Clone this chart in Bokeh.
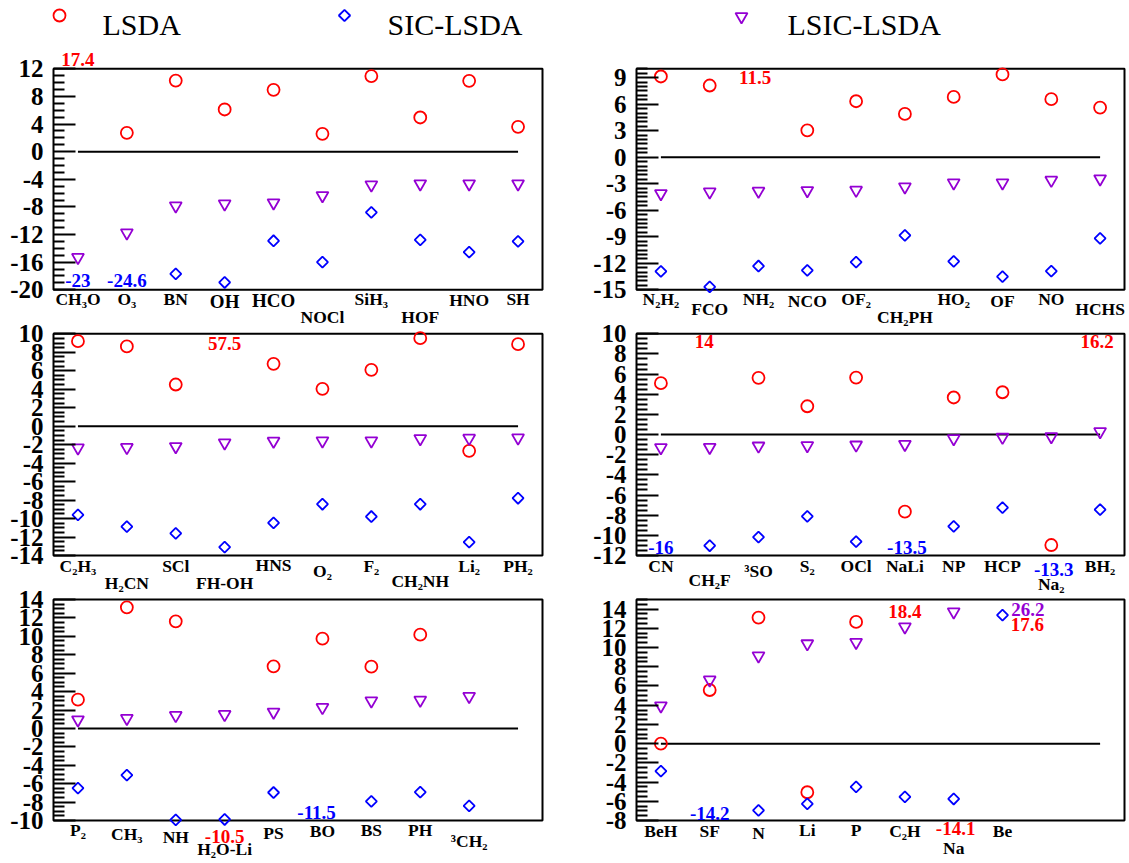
import math
from bokeh.plotting import figure
from bokeh.models import Range1d, FixedTicker, Label, LinearAxis
from bokeh.embed import file_html
from bokeh.resources import INLINE

NAN = float("nan")

# ---------------- data ----------------
series_names = ["LSDA", "SIC-LSDA", "LSIC-LSDA"]

cats1 = ["CH₃O", "O₃", "BN", "OH", "HCO", "NOCl", "SiH₃", "HOF", "HNO", "SH"]
lsda1 = [17.4, 2.73, 10.3, 6.11, 8.96, 2.59, 10.94, 4.95, 10.26, 3.6]
sic1 = [-23.0, -24.6, -17.68, -18.94, -12.9, -16.0, -8.8, -12.76, -14.55, -12.99]
lsic1 = [-15.3, -11.75, -7.85, -7.56, -7.4, -6.35, -4.8, -4.65, -4.65, -4.65]
yticks1 = [-20, -16, -12, -8, -4, 0, 4, 8, 12]

cats2 = ["N₂H₂", "FCO", "NH₂", "NCO", "OF₂", "CH₂PH", "HO₂", "OF", "NO", "HCHS"]
lsda2 = [9.13, 8.11, 11.5, 3.04, 6.33, 4.89, 6.82, 9.36, 6.56, 5.61]
sic2 = [-12.92, -14.66, -12.31, -12.8, -11.86, -8.84, -11.79, -13.52, -12.88, -9.18]
lsic2 = [-4.11, -3.92, -3.84, -3.77, -3.73, -3.35, -2.9, -2.9, -2.6, -2.44]
yticks2 = [-15, -12, -9, -6, -3, 0, 3, 6, 9]

cats3 = ["C₂H₃", "H₂CN", "SCl", "FH-OH", "HNS", "O₂", "F₂", "CH₂NH", "Li₂", "PH₂"]
lsda3 = [9.2, 8.63, 4.51, 57.5, 6.75, 4.04, 6.1, 9.53, -2.67, 8.88]
sic3 = [-9.6, -10.87, -11.6, -13.1, -10.47, -8.45, -9.78, -8.45, -12.56, -7.8]
lsic3 = [-2.35, -2.3, -2.2, -1.8, -1.62, -1.59, -1.59, -1.34, -1.3, -1.26]
yticks3 = [-14, -12, -10, -8, -6, -4, -2, 0, 2, 4, 6, 8, 10]

cats4 = ["CN", "CH₂F", "³SO", "S₂", "OCl", "NaLi", "NP", "HCP", "Na₂", "BH₂"]
lsda4 = [5.1, 14.0, 5.63, 2.81, 5.66, -7.65, 3.68, 4.2, -10.96, 16.2]
sic4 = [-16.0, -11.03, -10.17, -8.11, -10.63, -13.5, -9.11, -7.25, -13.3, -7.45]
lsic4 = [-1.29, -1.26, -1.13, -1.09, -1.03, -0.96, -0.4, -0.26, -0.2, 0.3]
yticks4 = [-12, -10, -8, -6, -4, -2, 0, 2, 4, 6, 8, 10]

cats5 = ["P₂", "CH₃", "NH", "H₂O-Li", "PS", "BO", "BS", "PH", "³CH₂"]
lsda5 = [3.12, 13.15, 11.63, -10.5, 6.74, 9.75, 6.7, 10.18, NAN]
sic5 = [-6.49, -5.07, -9.93, -9.89, -6.96, -11.5, -7.93, -6.92, -8.41]
lsic5 = [0.94, 1.09, 1.41, 1.52, 1.78, 2.28, 3.0, 3.08, 3.48]
yticks5 = [-10, -8, -6, -4, -2, 0, 2, 4, 6, 8, 10, 12, 14]

cats6 = ["BeH", "SF", "N", "Li", "P", "C₂H", "Na", "Be"]
lsda6 = [0.0, 5.58, 13.12, -5.06, 12.67, 18.4, -14.1, 17.6]
sic6 = [-2.86, -14.2, -6.95, -6.28, -4.5, -5.55, -5.76, 13.37]
lsic6 = [3.94, 6.63, 9.14, 10.4, 10.54, 12.15, 13.72, 26.2]
yticks6 = [-8, -6, -4, -2, 0, 2, 4, 6, 8, 10, 12, 14]

# ---------------- style / layout ----------------
COLORS = ["#ff0000", "#0000ff", "#9400d3"]
FONT = "Liberation Serif"
NSLOTS = 10
BIG_LABELS = {"OH", "HCO"}

# label stagger (px below the panel box) per category
drops1 = [9, 9, 9, 12, 11, 27, 9, 27, 10, 9]
drops2 = [9, 19, 9, 11, 9, 27, 9, 11, 9, 19]
drops3 = [10, 27, 10, 27, 9, 15, 10, 25, 10, 10]
drops4 = [10, 24, 15, 10, 10, 10, 10, 10, 28, 10]
drops5 = [9, 13, 16, 28, 12, 10, 9, 9, 20]
drops6 = [10, 10, 12, 9, 9, 10, 27, 10]

# placement of off-scale value notes: (series, category index, dx [slots], px above box bottom)
notes1 = [(0, 0, 0.0, 230), (1, 0, 0.0, 9), (1, 1, 0.0, 9)]
notes2 = [(0, 2, -0.07, 212)]
notes3 = [(0, 3, 0.0, 212)]
notes4 = [(0, 1, -0.11, 214), (0, 9, -0.06, 214), (1, 0, 0.0, 8), (1, 5, 0.04, 8), (1, 8, 0.05, -14)]
notes5 = [(0, 3, 0.0, -16), (1, 5, -0.12, 8)]
notes6 = [(0, 5, 0.0, 209), (2, 7, 0.52, 211), (0, 7, 0.51, 196), (0, 6, 0.04, -8), (1, 1, 0.0, 7)]

# page geometry (px) of the panel boxes
W, H = 1128, 862
COLS = {"L": (53, 542), "R": (636, 1124)}
ROWS = [(68.3, 289.3), (333.3, 555.0), (599.0, 820.0)]

p = figure(width=W, height=H, x_range=Range1d(0, W), y_range=Range1d(0, H),
           output_backend="svg", toolbar_location=None,
           x_axis_location=None, y_axis_location=None, min_border=0,
           outline_line_color=None)
p.grid.visible = False
p.background_fill_color = "white"
p.border_fill_color = "white"

for side, (bl, br) in COLS.items():
    ppx = (br - bl) / NSLOTS
    p.extra_x_ranges["x" + side] = Range1d(-bl / ppx, (W - bl) / ppx)


def fmt(v):
    return f"{v:g}"


def panel(name, cats, drops, series, ymin, ymax, ticks, nminor, notes, side, r):
    xr = "x" + side
    bt, bb = ROWS[r]
    ppy = (bb - bt) / (ymax - ymin)
    p.extra_y_ranges[name] = Range1d(ymin - (H - bb) / ppy, ymax + bt / ppy)
    rn = dict(x_range_name=xr, y_range_name=name)

    step = ticks[1] - ticks[0]
    minor = []
    for t in ticks:
        for j in range(1, nminor):
            m = t + step * j / nminor
            if m <= ymax:
                minor.append(m)
    ax = LinearAxis(fixed_location=0, **rn)
    ax.ticker = FixedTicker(ticks=ticks, minor_ticks=minor)
    ax.major_label_overrides = {t: str(t) for t in ticks}
    ax.axis_line_color = None
    ax.major_tick_in = 22
    ax.major_tick_out = 0
    ax.minor_tick_in = 11
    ax.minor_tick_out = 0
    ax.major_tick_line_width = 2
    ax.minor_tick_line_width = 2
    ax.major_label_text_font = FONT
    ax.major_label_text_font_style = "bold"
    ax.major_label_text_font_size = "25px"
    ax.major_label_text_color = "black"
    ax.major_label_standoff = 10
    p.add_layout(ax, "left")

    # panel box
    p.quad(left=[0], right=[NSLOTS], bottom=[ymin], top=[ymax], fill_color=None,
           line_color="black", line_width=2, **rn)

    xs = [i + 0.5 for i in range(len(cats))]
    # zero reference line across all slots
    p.segment(x0=[0.5], y0=[0], x1=[NSLOTS - 0.5], y1=[0], line_color="black",
              line_width=2, **rn)

    for k, vals in enumerate(series):
        ys = [v if (not math.isnan(v) and ymin <= v <= ymax) else NAN for v in vals]
        kw = dict(fill_color=None, line_color=COLORS[k], line_width=1.8, **rn)
        if k == 0:
            p.scatter(xs, ys, marker="circle", size=12, **kw)
        elif k == 1:
            p.scatter(xs, ys, marker="square", size=7.8, angle=math.pi / 4, **kw)
        else:
            p.scatter(xs, ys, marker="inverted_triangle", size=12, **kw)

    for i, lab in enumerate(cats):
        fs = "19px" if lab in BIG_LABELS else "17.5px"
        p.add_layout(Label(x=xs[i], y=ymin - drops[i] / ppy, text=lab, text_font=FONT,
                           text_font_style="bold", text_font_size=fs, text_align="center",
                           text_baseline="middle", text_color="black", **rn))

    for (k, i, dx, yy) in notes:
        p.add_layout(Label(x=xs[i] + dx, y=ymin + yy / ppy, text=fmt(series[k][i]),
                           text_font=FONT, text_font_style="bold", text_font_size="19px",
                           text_align="center", text_baseline="middle",
                           text_color=COLORS[k], **rn))


panel("y1", cats1, drops1, [lsda1, sic1, lsic1], -20, 12, yticks1, 4, notes1, "L", 0)
panel("y2", cats2, drops2, [lsda2, sic2, lsic2], -15, 10, yticks2, 6, notes2, "R", 0)
panel("y3", cats3, drops3, [lsda3, sic3, lsic3], -14, 10, yticks3, 4, notes3, "L", 1)
panel("y4", cats4, drops4, [lsda4, sic4, lsic4], -12, 10, yticks4, 4, notes4, "R", 1)
panel("y5", cats5, drops5, [lsda5, sic5, lsic5], -10, 14, yticks5, 4, notes5, "L", 2)
panel("y6", cats6, drops6, [lsda6, sic6, lsic6], -8, 15, yticks6, 4, notes6, "R", 2)

# ---------------- legend (page px in default ranges) ----------------
leg_marker_x = [59, 344, 741]
leg_text_x = [102, 387, 787]
for k in range(3):
    mx = [leg_marker_x[k]]
    kw = dict(fill_color=None, line_color=COLORS[k], line_width=1.8)
    if k == 0:
        p.scatter(mx, [H - 15], marker="circle", size=12, **kw)
    elif k == 1:
        p.scatter(mx, [H - 15], marker="square", size=8, angle=math.pi / 4, **kw)
    else:
        p.scatter(mx, [H - 16], marker="inverted_triangle", size=12, **kw)
    p.add_layout(Label(x=leg_text_x[k], y=H - 24, text=series_names[k], text_font=FONT,
                       text_font_size="30px", text_align="left",
                       text_baseline="alphabetic", text_color="black"))

open("out.html", "w").write(file_html(p, INLINE))
